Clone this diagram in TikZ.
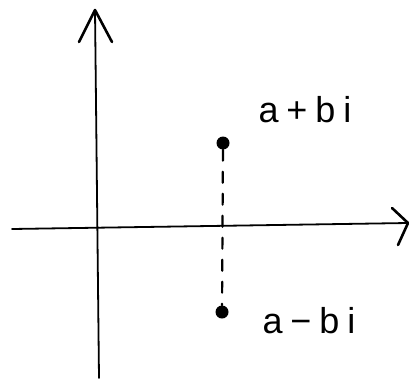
\documentclass[tikz,border=0pt]{standalone}
\usepackage{fontspec}
\setmainfont{Liberation Sans}
\begin{document}
\begin{tikzpicture}[x=1pt,y=-1pt,line cap=round,line join=round,
  axis/.style={line width=1.8pt,black},
  tip/.style={line width=2.6pt,black},
  dot/.style={circle,fill=black,inner sep=0pt,minimum size=13pt},
  lab/.style={font=\fontsize{36}{36}\selectfont\addfontfeature{LetterSpace=22},inner sep=0pt,anchor=base}]
\useasboundingbox (0,0) rectangle (409,383);
% vertical axis
\coordinate (vtop) at (95,10);
\coordinate (vbot) at (99,378);
\coordinate (vl) at (79,42);
\coordinate (vr) at (112,42);
\draw[axis] (vbot) -- (vtop);
\draw[tip] (vl) -- (vtop) -- (vr);
% horizontal axis
\coordinate (hl) at (12,229);
\coordinate (hr) at (408,223);
\coordinate (hu) at (392,208);
\coordinate (hd) at (398,245);
\draw[axis] (hl) -- (hr);
\draw[tip] (hu) -- (hr) -- (hd);
% points
\node[dot] (p) at (223,143) {};
\node[dot] (q) at (222,312) {};
\draw[line width=2.2pt,dash pattern=on 11pt off 11pt] (p) -- (q);
% labels
\node[lab] (lp) at (305,122) {a+bi};
\node[lab] (lq) at (309,333) {a−bi};
\end{tikzpicture}
\end{document}
